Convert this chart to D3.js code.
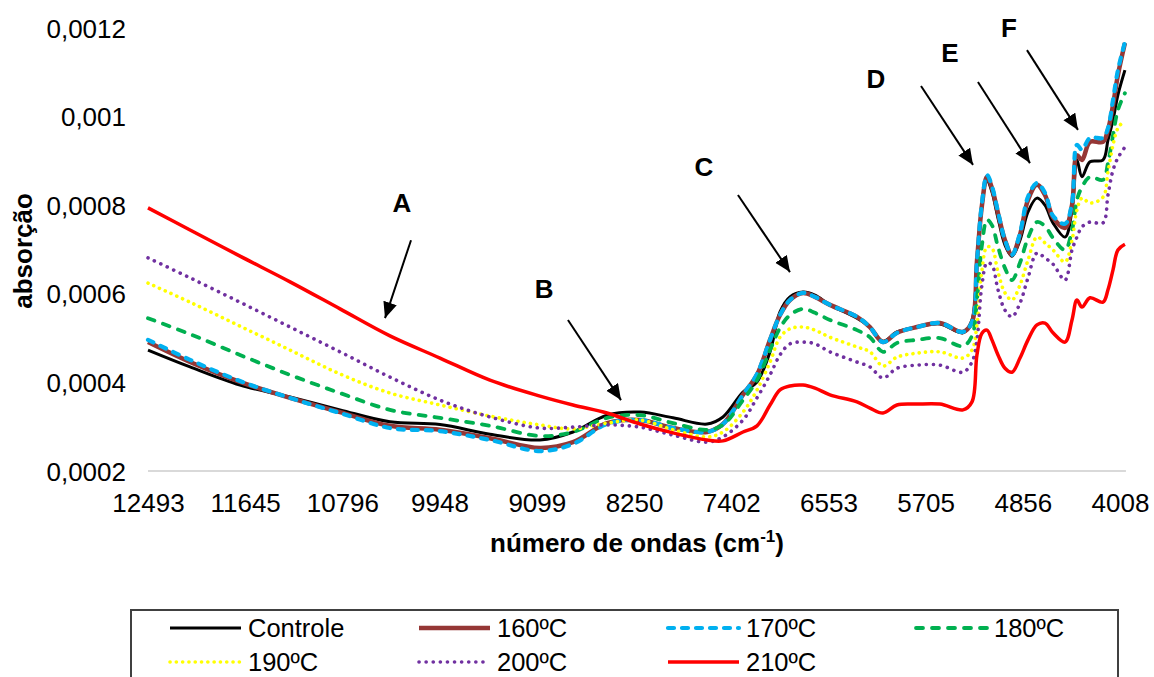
<!DOCTYPE html>
<html><head><meta charset="utf-8">
<script src="https://cdn.jsdelivr.net/npm/d3@7"></script>
<style>
html,body{margin:0;padding:0;background:#fff;}
svg{display:block;font-family:"Liberation Sans",Arial,sans-serif;}
</style></head>
<body><svg id="chart" width="1154" height="677"></svg>
<script>
// ---------- data ----------
const wavenumbers = [12493,12126,11690,11253,10817,10381,9944,9508,9071,8783,8486,8198,7910,7613,7474,7299,7177,7063,6976,6889,6775,6671,6540,6304,6191,6077,5955,5780,5580,5379,5300,5257,5213,5169,5126,5073,5012,4951,4881,4811,4733,4663,4593,4488,4427,4384,4340,4270,4157,4113,4069,4026,3965];
const controle = [4.73e-4,4.35e-4,3.94e-4,3.67e-4,3.38e-4,3.11e-4,3.05e-4,2.83e-4,2.70e-4,2.88e-4,3.26e-4,3.33e-4,3.20e-4,3.06e-4,3.22e-4,3.78e-4,4.01e-4,4.69e-4,5.59e-4,5.93e-4,6.04e-4,5.97e-4,5.75e-4,5.45e-4,5.25e-4,4.93e-4,5.14e-4,5.25e-4,5.32e-4,5.12e-4,5.41e-4,6.72e-4,8.00e-4,8.57e-4,8.30e-4,7.71e-4,7.10e-4,6.85e-4,7.21e-4,7.85e-4,8.16e-4,8.00e-4,7.60e-4,7.28e-4,7.89e-4,9.02e-4,8.64e-4,8.98e-4,9.02e-4,9.47e-4,9.92e-4,10.49e-4,11.05e-4];
const t160 = [4.91e-4,4.46e-4,4.01e-4,3.65e-4,3.33e-4,3.02e-4,2.93e-4,2.74e-4,2.52e-4,2.65e-4,3.08e-4,3.15e-4,2.97e-4,2.88e-4,3.06e-4,3.72e-4,4.17e-4,4.96e-4,5.52e-4,5.86e-4,6.02e-4,5.93e-4,5.75e-4,5.48e-4,5.25e-4,4.91e-4,5.12e-4,5.25e-4,5.34e-4,5.14e-4,5.36e-4,6.72e-4,8.00e-4,8.64e-4,8.39e-4,7.82e-4,7.21e-4,6.88e-4,7.33e-4,8.12e-4,8.46e-4,8.23e-4,7.73e-4,7.49e-4,8.00e-4,9.13e-4,9.02e-4,9.43e-4,9.43e-4,9.70e-4,10.26e-4,10.94e-4,11.66e-4];
const t170 = [4.96e-4,4.51e-4,4.03e-4,3.65e-4,3.31e-4,2.97e-4,2.90e-4,2.70e-4,2.45e-4,2.61e-4,3.06e-4,3.15e-4,2.97e-4,2.88e-4,3.06e-4,3.72e-4,4.19e-4,4.96e-4,5.52e-4,5.86e-4,6.02e-4,5.93e-4,5.75e-4,5.48e-4,5.25e-4,4.91e-4,5.12e-4,5.25e-4,5.34e-4,5.14e-4,5.36e-4,6.72e-4,8.05e-4,8.68e-4,8.43e-4,7.85e-4,7.21e-4,6.88e-4,7.37e-4,8.19e-4,8.50e-4,8.28e-4,7.76e-4,7.58e-4,8.05e-4,9.36e-4,9.25e-4,9.52e-4,9.52e-4,9.74e-4,10.38e-4,11.05e-4,11.68e-4];
const t180 = [5.45e-4,5.09e-4,4.62e-4,4.17e-4,3.76e-4,3.38e-4,3.20e-4,3.02e-4,2.79e-4,2.88e-4,3.20e-4,3.26e-4,3.08e-4,2.93e-4,3.04e-4,3.60e-4,4.05e-4,4.73e-4,5.23e-4,5.52e-4,5.66e-4,5.57e-4,5.41e-4,5.18e-4,5.02e-4,4.69e-4,4.89e-4,4.96e-4,5.00e-4,4.82e-4,5.05e-4,5.86e-4,7.10e-4,7.67e-4,7.55e-4,7.06e-4,6.58e-4,6.31e-4,6.70e-4,7.26e-4,7.62e-4,7.53e-4,7.26e-4,6.99e-4,7.44e-4,8.12e-4,8.41e-4,8.64e-4,8.57e-4,8.95e-4,9.58e-4,10.15e-4,10.53e-4];
const t190 = [6.24e-4,5.81e-4,5.27e-4,4.73e-4,4.19e-4,3.76e-4,3.49e-4,3.24e-4,3.04e-4,2.95e-4,3.08e-4,3.15e-4,2.93e-4,2.77e-4,2.88e-4,3.33e-4,3.83e-4,4.46e-4,5.02e-4,5.21e-4,5.25e-4,5.18e-4,5.02e-4,4.80e-4,4.69e-4,4.37e-4,4.57e-4,4.66e-4,4.69e-4,4.55e-4,4.73e-4,5.30e-4,6.54e-4,7.06e-4,7.03e-4,6.49e-4,6.02e-4,5.86e-4,6.20e-4,6.76e-4,7.28e-4,7.15e-4,6.99e-4,6.72e-4,7.21e-4,7.89e-4,8.16e-4,8.05e-4,8.18e-4,8.75e-4,9.36e-4,9.74e-4,9.92e-4];
const t200 = [6.81e-4,6.36e-4,5.81e-4,5.25e-4,4.69e-4,4.12e-4,3.60e-4,3.22e-4,2.97e-4,2.99e-4,3.04e-4,2.99e-4,2.81e-4,2.65e-4,2.77e-4,3.15e-4,3.65e-4,4.17e-4,4.62e-4,4.87e-4,4.91e-4,4.87e-4,4.69e-4,4.46e-4,4.35e-4,4.10e-4,4.32e-4,4.39e-4,4.39e-4,4.23e-4,4.46e-4,4.96e-4,6.20e-4,6.70e-4,6.65e-4,6.09e-4,5.63e-4,5.48e-4,5.79e-4,6.36e-4,6.92e-4,6.81e-4,6.67e-4,6.31e-4,6.99e-4,7.28e-4,7.51e-4,7.62e-4,7.60e-4,8.23e-4,8.79e-4,9.07e-4,9.31e-4];
const t210 = [7.94e-4,7.44e-4,6.85e-4,6.27e-4,5.66e-4,5.05e-4,4.55e-4,4.05e-4,3.69e-4,3.49e-4,3.31e-4,3.06e-4,2.86e-4,2.70e-4,2.68e-4,2.88e-4,3.02e-4,3.49e-4,3.83e-4,3.92e-4,3.94e-4,3.87e-4,3.72e-4,3.56e-4,3.42e-4,3.31e-4,3.49e-4,3.51e-4,3.51e-4,3.38e-4,3.56e-4,4.62e-4,5.11e-4,5.18e-4,4.96e-4,4.62e-4,4.32e-4,4.23e-4,4.55e-4,4.96e-4,5.30e-4,5.34e-4,5.12e-4,4.91e-4,5.41e-4,5.86e-4,5.70e-4,5.91e-4,5.81e-4,6.09e-4,6.54e-4,6.99e-4,7.12e-4];
const seriesNames = ["Controle","160ºC","170ºC","180ºC","190ºC","200ºC","210ºC"];
const xTickValues = [12493,11645,10796,9948,9099,8250,7402,6553,5705,4856,4008];
const yTickValues = [0.0002,0.0004,0.0006,0.0008,0.001,0.0012];
// annotation letters, placed in data space (wavenumber, absorbance)
const annLabels = ["A","B","C","D","E","F"];
const annText = [[10276,0.000805],[9036,0.000611],[7640,0.000886],[6138,0.001085],[5492,0.001144],[4977,0.0012]];
const annFrom = [[10197,0.000721],[8827,0.000541],[7343,0.000823],[5745,0.001069],[5248,0.001078],[4820,0.00115]];
const annTo = [[10424,0.000545],[8364,0.000360],[6889,0.000649],[5291,0.000891],[4794,0.000895],[4375,0.000970]];

// ---------- styles ----------
const styles = [
  {color:"#000000", width:3, dash:null, cap:"butt"},
  {color:"#953735", width:4.5, dash:null, cap:"butt"},
  {color:"#00b0f0", width:4.2, dash:"6,8", cap:"round"},
  {color:"#00b050", width:3.8, dash:"7,9", cap:"round"},
  {color:"#ffff00", width:3.6, dash:"0.1,6.2", cap:"round"},
  {color:"#7030a0", width:3.6, dash:"0.1,7", cap:"round"},
  {color:"#ff0000", width:3.5, dash:null, cap:"butt"}
];
const allValues = [controle,t160,t170,t180,t190,t200,t210];

const svg = d3.select("#chart");
const x = d3.scaleLinear().domain([12493,4008]).range([148,1120]);
const y = d3.scaleLinear().domain([0.0002,0.0012]).range([471,28]);
const FONT = 26;

// axis line
svg.append("line").attr("x1",x(12493)).attr("x2",x(wavenumbers[wavenumbers.length-1])+1)
  .attr("y1",y(0.0002)).attr("y2",y(0.0002)).attr("stroke","#d9d9d9").attr("stroke-width",2);

// x tick labels
const xAxis = d3.axisBottom(x).tickValues(xTickValues).tickSize(0).tickPadding(0).tickFormat(d=>String(d));
const gx = svg.append("g").attr("transform",`translate(0,${y(0.0002)})`).call(xAxis);
gx.select(".domain").remove();
gx.selectAll("text").attr("font-size",FONT).attr("font-family","'Liberation Sans',Arial,sans-serif")
  .attr("fill","#000").attr("y",32).attr("dy","0.35em");

// y tick labels
const fmt = d => String(+d.toFixed(4)).replace(".",",");
const yAxis = d3.axisLeft(y).tickValues(yTickValues).tickSize(0).tickPadding(0).tickFormat(fmt);
const gy = svg.append("g").attr("transform","translate(126,0)").call(yAxis);
gy.select(".domain").remove();
gy.selectAll("text").attr("font-size",FONT).attr("font-family","'Liberation Sans',Arial,sans-serif")
  .attr("fill","#000").attr("x",0).attr("dy","0.35em");

// titles
svg.append("text").attr("transform","translate(32,251) rotate(-90)").attr("text-anchor","middle")
  .attr("font-size",FONT).attr("font-weight","bold").text("absorção");
const xt = svg.append("text").attr("x",637).attr("y",552).attr("text-anchor","middle")
  .attr("font-size",FONT).attr("font-weight","bold");
xt.append("tspan").text("número de ondas (cm");
xt.append("tspan").attr("font-size",17).attr("dy",-10).text("-1");
xt.append("tspan").attr("dy",10).text(")");

// lines
const line = d3.line().x((d,i)=>x(wavenumbers[i])).y(d=>y(d)).curve(d3.curveCatmullRom.alpha(0.5));
allValues.forEach((vals,k)=>{
  const s = styles[k];
  svg.append("path").datum(vals).attr("d",line).attr("fill","none")
    .attr("stroke",s.color).attr("stroke-width",s.width)
    .attr("stroke-linecap",s.cap).attr("stroke-linejoin","round")
    .attr("stroke-dasharray",s.dash);
});

// annotations
const defs = svg.append("defs");
defs.append("marker").attr("id","arr").attr("markerUnits","userSpaceOnUse")
  .attr("markerWidth",18).attr("markerHeight",16).attr("refX",16).attr("refY",7)
  .attr("orient","auto").append("path").attr("d","M0,0 L16,7 L0,14 Z").attr("fill","#000");
annLabels.forEach((lab,i)=>{
  svg.append("text").attr("x",x(annText[i][0])).attr("y",y(annText[i][1])).attr("dy","0.35em")
    .attr("text-anchor","middle").attr("font-size",FONT).attr("font-weight","bold").text(lab);
  svg.append("line").attr("x1",x(annFrom[i][0])).attr("y1",y(annFrom[i][1]))
    .attr("x2",x(annTo[i][0])).attr("y2",y(annTo[i][1]))
    .attr("stroke","#000").attr("stroke-width",2).attr("marker-end","url(#arr)");
});

// legend
svg.append("rect").attr("x",131).attr("y",610).attr("width",987).attr("height",90)
  .attr("fill","none").attr("stroke","#404040").attr("stroke-width",2);
const colX = [170,419,668,916];
const rowY = [628,662];
seriesNames.forEach((nm,k)=>{
  const cx = colX[k%4], cy = rowY[Math.floor(k/4)], s = styles[k];
  svg.append("line").attr("x1",cx).attr("x2",cx+71).attr("y1",cy).attr("y2",cy)
    .attr("stroke",s.color).attr("stroke-width",s.width).attr("stroke-linecap",s.cap)
    .attr("stroke-dasharray",s.dash);
  svg.append("text").attr("x",cx+78).attr("y",cy).attr("dy","0.35em").attr("font-size",25.5).text(nm);
});
</script></body></html>
